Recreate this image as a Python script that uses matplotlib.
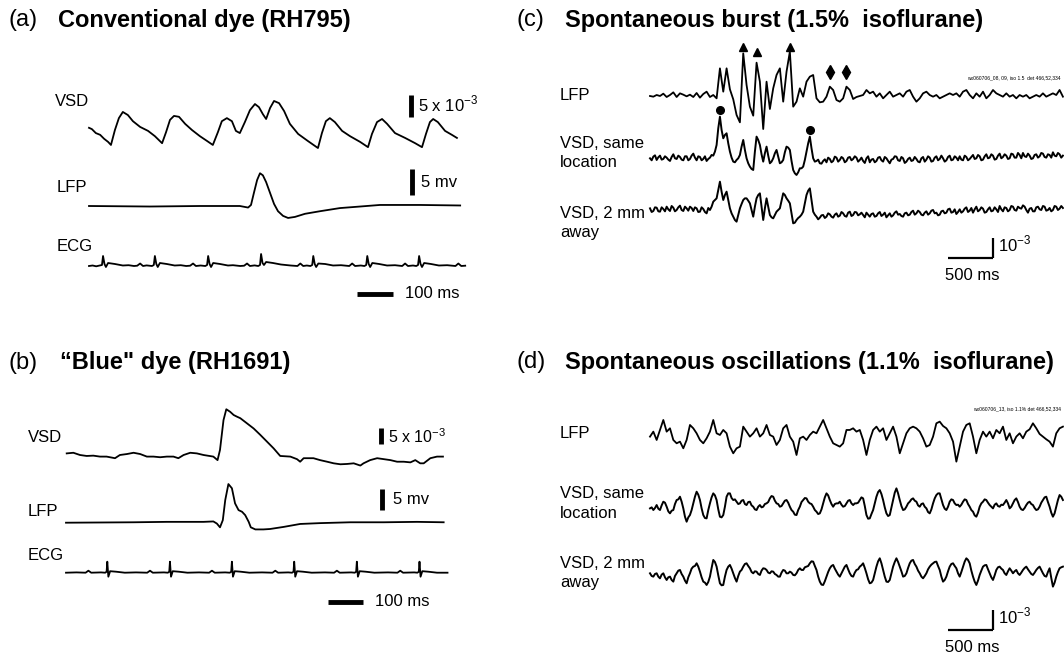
import numpy as np
import matplotlib
matplotlib.use("Agg")
import matplotlib.pyplot as plt

plt.rcParams['font.family'] = ['Liberation Sans', 'DejaVu Sans']
plt.rcParams['mathtext.fontset'] = 'custom'
plt.rcParams['mathtext.rm'] = 'Liberation Sans'

# ---------------- data ----------------
# (a) conventional dye, time in ms
a_vsd_t = [0, 8, 19, 31, 42, 53, 61, 72, 83, 94, 108, 122, 142, 164, 183, 203, 214, 225, 236, 250,
           267, 286, 308, 328, 344, 358, 369, 383, 397, 408, 419, 433, 447, 461, 472, 483, 492, 503,
           514, 528, 542, 558, 581, 608, 636, 647, 658, 669, 683, 703, 725, 753, 775, 786, 800, 814,
           828, 850, 878, 906, 925, 936, 947, 956, 969, 989, 1008, 1022]
a_vsd_v = [0.5, 0.2, -0.7, -1.1, -2.0, -2.7, -3.4, 0.0, 2.7, 4.1, 3.4, 2.0, 0.7, -0.2, -1.4, -3.0, -0.5,
           2.3, 3.2, 3.0, 1.4, 0.0, -1.4, -2.5, -3.4, -0.5, 2.0, 2.7, 2.0, -0.2, -0.7, 1.8, 4.5, 5.9,
           5.2, 3.6, 2.5, 5.0, 6.6, 6.1, 4.3, 1.4, -0.9, -2.5, -4.1, -0.7, 2.0, 2.7, 1.8, -0.2, -1.4,
           -2.7, -3.9, -0.9, 1.8, 2.5, 1.4, -0.7, -1.8, -3.0, -3.9, -0.9, 1.8, 2.5, 1.8, -0.2, -1.1, -1.8]

a_lfp_t = [0, 169, 308, 419, 442, 450, 458, 467, 475, 483, 492, 503, 514, 525, 539, 553, 572, 600,
           642, 697, 753, 808, 920, 1031]
a_lfp_v = [0, -0.1, 0, 0, -0.3, 0.2, 2.5, 5.0, 6.3, 5.9, 4.6, 2.5, 0.4, -1.0, -1.9, -2.3, -2.1, -1.5,
           -1.0, -0.4, -0.1, 0.2, 0.2, 0.1]

a_ecg_t = [0, 10, 20, 31, 36, 39, 43, 47, 53, 72, 94, 110, 125, 134, 142, 150, 160, 175, 180, 183,
           187, 191, 197, 216, 238, 255, 270, 281, 289, 297, 310, 323, 328, 331, 335, 339, 345, 364,
           386, 400, 420, 431, 439, 447, 460, 470, 475, 478, 482, 486, 492, 511, 533, 560, 579, 587,
           595, 605, 615, 620, 623, 627, 631, 637, 656, 678, 700, 723, 731, 739, 755, 765, 770, 773,
           777, 781, 787, 806, 828, 850, 870, 878, 886, 900, 909, 914, 917, 921, 925, 931, 950, 972,
           995, 1018, 1026, 1034, 1045]
a_ecg_v = [0, 0.5, -0.3, 0.6, 1, 10, 2, -1, 3, 2, 0.5, 0.8, 0, 0.3, 2.5, 0, 0.6, 0, 1, 10,
           2, -1, 3, 2, 0.5, 0.8, 0, 0.3, 2.5, 0, 0.5, 0, 1, 10, 2, -1, 3, 2,
           0.5, 0.8, 0, 0.3, 2.5, 0, 0.6, 0, 1, 12, 3, 1, 4, 3, 1.5, 0.5, 0, 2.5,
           0, 0.5, 0, 1, 10, 2, -1, 2.5, 2, 0.5, 0.8, 0, 2.5, 0, 0.5, 0, 1, 10,
           2, -1, 3, 2, 0.5, 0.8, 0, 2.5, 0, 0.5, 0, 1, 10, 2, -1, 3, 2, 0.5,
           0.8, 0, 2.5, 0, 0.3]

# (b) "blue" dye, time in ms
b_vsd_t = [2, 21, 40, 59, 78, 97, 116, 140, 154, 174, 193, 212, 231, 250, 269, 288, 307, 321, 336,
           355, 374, 393, 421, 433, 440, 450, 458, 469, 479, 488, 498, 517, 536, 555, 574, 593, 612,
           641, 660, 669, 679, 707, 726, 746, 765, 784, 803, 822, 841, 850, 869, 889, 908, 927, 946,
           965, 984, 998, 1012, 1022, 1041, 1060, 1077]
b_vsd_v = [0.5, 0.7, 0, -0.3, -0.2, -0.5, -0.5, -1.0, 0, 0.3, 0.7, 0.3, -0.5, -0.5, -0.7, -0.5, -0.5,
           -1.0, 0, 0.7, 0.5, 0, -0.5, -1.6, 1.6, 10.9, 14.3, 13.5, 12.5, 12.0, 11.5, 9.9, 8.3, 6.3,
           4.2, 2.1, -0.3, -0.5, -1.3, -2.1, -1.0, -1.0, -1.6, -2.1, -2.6, -2.9, -2.8, -2.6, -3.3,
           -2.6, -1.6, -1.0, -1.3, -1.6, -2.1, -2.1, -2.3, -1.6, -2.6, -2.6, -1.0, -0.5, -0.5]

b_lfp_t = [0, 193, 288, 393, 421, 431, 440, 448, 455, 464, 474, 483, 493, 503, 512, 522, 528, 541,
           564, 583, 622, 669, 726, 812, 908, 1003, 1079]
b_lfp_v = [0, 0.1, 0.2, 0.2, 0.3, -0.2, -1.1, 0.6, 5.4, 9.2, 8.2, 4.6, 3.0, 2.6, 1.8, 0.2, -1.1,
           -1.6, -1.6, -1.5, -1.0, -0.3, -0.1, 0.1, 0.1, 0.2, 0.1]

b_ecg_t = [0, 30, 56, 64, 72, 100, 112, 116, 118, 121, 126, 143, 168, 200, 232, 240, 248, 280, 291,
           295, 297, 300, 305, 322, 347, 380, 409, 417, 425, 455, 468, 472, 474, 477, 482, 499, 524,
           560, 590, 598, 606, 635, 646, 650, 652, 655, 660, 677, 702, 740, 766, 774, 782, 815, 825,
           829, 831, 834, 839, 856, 881, 920, 947, 955, 963, 995, 1004, 1008, 1010, 1013, 1018, 1035,
           1060, 1090]
b_ecg_v = [0, 0.3, 0, 2, 0, 0.3, 0, 1, 11, -4, 1.5, 1, 0, 0.3, 0, 2, 0, 0.3, 0,
           1, 11, -4, 1.5, 1, 0, 0.3, 0, 2, 0, 0.3, 0, 1, 11, -4, 1.5, 1, 0,
           0.3, 0, 2, 0, 0.3, 0, 1, 11, -4, 1.5, 1, 0, 0.3, 0, 2, 0, 0.3, 0,
           1, 11, -4, 1.5, 1, 0, 0.3, 0, 2, 0, 0.3, 0, 1, 11, -4, 1.5, 1,
           0, 0]

# (c) spontaneous burst, uniform sampling, a.u. (60 a.u. = 1e-3)
DT_LFP = 37     # ms per sample
DT_FINE = 18.5  # ms per sample for the optical traces
c_lfp = [0, -2, 3, 0, 7, -3, 3, 11, -3, 8,
         4, -1, 4, -3, 9, -5, 6, 13, -3, 3,
         -7, 83, 13, 83, 20, -10, -57, -79, 128, 33,
         -32, -59, 100, 43, -99, 43, -39, 23, 63, 83,
         -17, 73, 133, -32, -17, 23, -2, 43, 58, 63,
         -7, -19, -17, -2, 28, 18, -12, -17, -7, 28,
         18, -9, -3, 0,
         3, 18, 8, 13, -2, 8, -7, 3, 13, -2,
         3, 8, -2, 13, 18, -2, -17, -7, 8, 13,
         3, -2, 3, -7, -2, 3, 8, 3, 8, -2,
         13, 18, 3, -7, 8, -2, 13, -7, 3, 18,
         8, 3, -2, 8, -2, 3, -7, 3, -2, 3,
         -7, -2, 3, -2, 8, -2, 3, 8, 3, 18,
         -2]
c_vsd_same = [0, -6, 5, 9, -5, 3, 8, -4, -2, 6, 2, -4, -8, 4, 12, 0, -2, 8, 4, -4,
              -6, 6, 6, -6, -2, 8, 14, 2, -6, 6, 4, -6, -2, 6, -8, -2, 2, 10, 8, 20,
              40, 90, 125, 85, 60, 70, 75, 45, 20, 2, -10, -12, -5, 0, 10, 35, 55, 25, 0, -15,
              -25, -32, -35, 20, 65, 55, 40, 12, -10, 15, 35, 8, -15, -10, 0, 15, 25, 5, -15, -12,
              -5, 18, 35, 32, 25, -8, -35, -45, -50, -42, -30, -30, -25, -5, 20, 45, 65, 30, 0, -10,
              -8, -4, -15, -16, -8, -3, -12, 2, -2, -12, -8, 5, 2, -10, -5, 4, 0, -12, -8, 2,
              4, -6, -2, 6, 2, -10, -5, 2,
              -8, -14, 0, 6, -12, -4, -2, -12, -8, 2, 4, -6, -10, 4, 0, -8, -15, -4, -2, 6,
              5, -6, -8, 4, 0, -14, -10, -2, 2, -8, -6, 4, -2, -10, -12, 0, 4, -10, -4, 6,
              2, -10, -8, 2, 6, -6, -2, 8, 0, -10, -6, 4, 8, -6, -4, 6, 2, -6, 6, -4,
              -6, 8, 4, -6, -2, 4, 10, -2, 0, 10, 6, -6, -4, 6, 12, 0, 2, 12, 8, -4,
              -2, 8, 14, 0, 4, 12, 8, -2, 0, 14, 12, 2, 2, 16, 10, 0, 16, 6, 4, 14,
              8, -2, 0, 10, 12, 2, 6, 16, 14, 4, 2, 12, 10, 2, 18, 8, 6, 16, 12, 2,
              8]
c_vsd_2mm = [5, -6, -3, 8, 7, -4, -5, 8, 3, -4, 10, 2, -3, 12, 7, -4, 0, 8, 13, 0,
             -3, 10, 5, -2, 10, 6, -3, 8, 5, -6, -5, 8, 3, -6, -10, 6, 0, 10, 25, 30,
             35, 60, 85, 55, 30, 45, 55, 30, 5, -10, -20, -30, -35, -15, 5, 18, 30, 35, 35, 28,
             20, 0, -20, 10, 35, 45, 50, 10, -30, 5, 35, 10, -15, -22, -25, -15, -5, 0, 5, 28,
             50, 45, 35, 28, 20, -10, -40, -38, -30, -24, -20, -14, -5, 20, 45, 58, 65, 30, -5, -14,
             -20, -28, -23, -16, -15, -24, -20, -10, -13, -20, -23, -14, -10, -20, -17, -6, -10, -18, -20, -8,
             -5, -18, -15, -6, -7, -16, -13, -8,
             -15, -22, -8, -14, -20, -12, -10, -20, -18, -10, -6, -18, -14, -8, -22, -16, -10, -20, -16, -8,
             -4, -14, -12, -18, -20, -10, -8, -16, -14, -6, -2, -14, -10, -2, -6, -14, -16, -8, -4, -14,
             -10, -2, 0, -10, -8, -16, -14, -4, -2, -10, -8, 2, 4, -8, -6, 2, -12, -6, 2, -8,
             -4, 4, 8, -6, -2, 6, -8, 2, 10, -4, 0, 8, 4, -8, -6, 2, 8, -4, -2, 8,
             2, -6, 12, 2, -4, 8, 6, -4, 0, 12, 10, 0, -2, 10, 6, 4, 14, 10, 0, -8,
             4, 6, -4, -4, 8, 10, 2, 0, 12, 10, -2, 0, 6, -4, 0, 12, 10, 0, 4, 12,
             6]

# (d) spontaneous oscillations
d_lfp = [-10, 5, -20, 10, 40, 5, 15, -20, -30, -25,
         -45, -20, 25, 15, 0, -20, -30, -15, 5, 40,
         0, -5, 10, 0, -40, -60, -45, -40, 20, 5,
         -10, 0, 15, -10, 0, 25, -5, -10, -35, -20,
         15, 25, -10, -25, -65, -15, -10, -20, -5, 5,
         0, 20, 40, 15, -10, -30, -35, -40, -30, 10,
         10, 15, 5, 10,
         -20, -65, -20, 10, 20, 5, 15, -20, 0, 20,
         -10, -60, -30, 0, 15, 20, 15, 5, -15, -40,
         -35, -10, 30, 35, 22, 15, 0, -25, -85, -40,
         5, 25, 30, -10, -60, -20, 5, -10, 5, -15,
         10, 0, 20, -20, 0, -30, -10, 0, -15, 5,
         12, 30, 15, -2, -10, -18, -25, -40, 0, 15,
         20]
d_vsd_same = [-5, -2, -10, -4, 5, -6, -10, 4, 15, 12, 0, -14, -20, -12, -10, 8, 20, 22, 30, 15,
              -5, -30, -45, -32, -25, -10, 10, 30, 45, 36, 20, -5, -25, -34, -35, -10, 10, 28, 40, 34,
              20, -8, -30, -32, -25, 0, 30, 40, 40, 26, 20, 22, 15, 8, 10, 18, 20, 8, 5, 14,
              15, 4, 0, -8, -10, 0, 5, -2, 0, 8, 10, 14, 25, 32, 30, 18, 10, 8, 0, 2,
              10, 18, 20, 12, 0, -10, -15, -24, -25, -10, 0, 14, 20, 26, 25, 15, 10, 8, 0, -10,
              -15, -22, -20, -8, 10, 28, 40, 34, 20, 8, 0, 8, 10, 10, 15, 6, 0, 2, 10, 18,
              20, 10, 5, 10, 10, 12, 20, 28,
              25, 2, -25, -36, -35, -22, -10, 10, 30, 44, 50, 38, 20, -2, -20, -28, -25, -2, 20, 42,
              55, 40, 20, 2, -10, -8, 0, 10, 15, 22, 25, 18, 15, 4, 0, 8, 10, 0, -5, -16,
              -20, -8, 10, 25, 35, 40, 40, 22, 5, -6, -10, 0, 15, 22, 20, 10, 5, 6, 0, 6,
              15, 22, 20, 8, 0, -10, -15, -26, -30, -18, 0, 10, 15, 22, 20, 12, 5, 0, -5, 6,
              10, 2, 0, 6, 5, 12, 20, 10, -5, 0, 10, 20, 25, 14, 0, -8, -10, -4, 5, 12,
              15, 8, 5, -4, -10, -8, 0, 12, 20, 28, 30, 14, 0, -18, -30, -20, 0, 20, 35, 30,
              20]
d_vsd_2mm = [0, -8, -10, -2, 0, -10, -15, -4, 0, -12, -20, -12, -10, -20, -25, -8, 0, 8, 10, -2,
             -10, -22, -30, -12, 0, 14, 20, 22, 30, 20, 5, -12, -25, -28, -35, -26, -10, 16, 40, 34,
             20, -6, -30, -36, -35, -10, 10, 20, 25, 14, 0, -14, -25, -8, 5, 10, 20, 28, 30, 22,
             15, 4, 0, 6, 5, -2, -5, 8, 15, 14, 10, 2, 0, 6, 5, -2, -5, -10, -10, 2,
             10, 8, 0, 0, 5, 2, -5, -6, 0, 10, 15, 10, 10, 18, 20, 22, 30, 36, 35, 22,
             10, -10, -25, -34, -35, -24, -10, 4, 15, 22, 25, 14, 5, -4, -10, 0, 10, 20, 25, 12,
             0, -8, -10, 2, 10, 12, 20, 24,
             30, 16, 0, -18, -30, -28, -20, 0, 20, 36, 45, 30, 10, -10, -25, -26, -20, 0, 20, 34,
             45, 34, 20, 6, -10, -8, 0, 16, 30, 38, 40, 28, 20, 8, 0, -10, -15, -8, 0, 12,
             20, 26, 30, 34, 35, 22, 10, -10, -25, -20, -10, 6, 20, 28, 30, 22, 15, 0, -10, 4,
             20, 35, 45, 40, 30, 8, -10, -25, -35, -22, -5, 8, 20, 24, 25, 12, 0, -12, -20, -6,
             10, 18, 20, 14, 10, 0, -5, 6, 15, 8, 0, 6, 10, 0, -5, 2, 10, 16, 20, 12,
             5, -2, -5, 2, 10, 16, 20, 10, 0, -8, -10, 4, 15, -14, -40, -28, -10, 4, 15, 18,
             20]

# burst markers in (c): (time ms, level a.u.)
c_triangles = [(1036, 147), (1184, 132), (1554, 146)]
c_diamonds = [(1998, 72), (2183, 72)]
c_dots_vsd = [(777, 145), (1776, 85)]

# ---------------- layout ----------------
W, H = 1064, 657
fig = plt.figure(figsize=(W / 100, H / 100), dpi=100)
LW = 1.3


def trace_axes(x0, y0, px_per_ms, px_per_unit, span=5000, half=90):
    # x0, y0: pixel position (from top-left) of t=0, v=0
    ax = fig.add_axes([x0 / W, 1 - (y0 + half) / H, span * px_per_ms / W, 2 * half / H])
    ax.set_xlim(0, span)
    ax.set_ylim(-half / px_per_unit, half / px_per_unit)
    ax.axis('off')
    return ax


def draw(ax, t, v, lw=LW):
    ax.plot(t, v, color='black', lw=lw, clip_on=False, solid_joinstyle='round')


def txt(x, y, s, size=12, weight='normal', ha='left'):
    fig.text(x / W, 1 - y / H, s, fontsize=size, fontweight=weight, ha=ha, va='center')


def vbar(ax, t, v0, dv, lw=3.5):
    ax.plot([t, t], [v0, v0 + dv], color='black', lw=lw, solid_capstyle='butt', clip_on=False)


def hbar(ax, t0, dt, v, lw=3.5):
    ax.plot([t0, t0 + dt], [v, v], color='black', lw=lw, solid_capstyle='butt', clip_on=False)


TS = 17  # title size

# panel (a)
txt(8, 20, '(a)', TS)
txt(58, 20, 'Conventional dye (RH795)', TS, 'bold')
ax = trace_axes(89, 130, 0.36, 4.4)
draw(ax, a_vsd_t, a_vsd_v)
vbar(ax, 895, 3.0, 5)
txt(55, 102, 'VSD')
txt(418, 104, r'5 x 10$^{-3}$')
ax = trace_axes(89, 206, 0.36, 5.2)
draw(ax, a_lfp_t, a_lfp_v)
vbar(ax, 898, 2.1, 5)
txt(57, 188, 'LFP')
txt(421, 183, '5 mv')
ax = trace_axes(89, 266, 0.36, 1.0)
draw(ax, a_ecg_t, a_ecg_v)
hbar(ax, 745, 100, -28)
txt(57, 247, 'ECG')
txt(405, 294, '100 ms')

# panel (b)
txt(8, 363, '(b)', TS)
txt(60, 363, '\u201cBlue" dye (RH1691)', TS, 'bold')
ax = trace_axes(66, 455, 0.35, 3.2)
draw(ax, b_vsd_t, b_vsd_v)
vbar(ax, 901, 3.4, 5)
txt(28, 437, 'VSD')
txt(388, 437, r'5 x 10$^{-3}$', 11.5)
ax = trace_axes(66, 522.7, 0.35, 4.2)
draw(ax, b_lfp_t, b_lfp_v)
vbar(ax, 904, 3.0, 5)
txt(28, 512, 'LFP')
txt(393, 499, '5 mv')
ax = trace_axes(66, 572.7, 0.35, 1.0)
draw(ax, b_ecg_t, b_ecg_v)
hbar(ax, 749, 100, -29.3)
txt(28, 555, 'ECG')
txt(375, 602, '100 ms')

# panels (c) and (d)
PX_MS = 45 / 500.0
PX_AU = 1 / 3.0
panels = [
    dict(key='c', series=((c_lfp, DT_LFP, LW), (c_vsd_same, DT_FINE, 1.4), (c_vsd_2mm, DT_FINE, 1.4)),
         y=(96, 158.3, 210), ytitle=20,
         title='Spontaneous burst (1.5%  isoflurane)', note='wx060706_08, 09, iso 1.5  det 466,52,334',
         ynote=78, labels=(96, 144, 163, 213, 233), bar_v=-144),
    dict(key='d', series=((d_lfp, DT_LFP, LW), (d_vsd_same, DT_FINE, 1.4), (d_vsd_2mm, DT_FINE, 1.4)),
         y=(433.3, 506.7, 573.3), ytitle=362,
         title='Spontaneous oscillations (1.1%  isoflurane)', note='wx060706_13, iso 1.1% det 466,52,334',
         ynote=409, labels=(433, 494, 513, 563, 583), bar_v=-170),
]
for p in panels:
    txt(516, p['ytitle'], '(%s)' % p['key'], TS)
    txt(565, p['ytitle'], p['title'], TS, 'bold')
    txt(1061, p['ynote'], p['note'], 3.6, ha='right')
    axes = []
    for (series, dt, lw), yb in zip(p['series'], p['y']):
        ax = trace_axes(650, yb, PX_MS, PX_AU)
        draw(ax, np.arange(len(series)) * dt, series, lw)
        axes.append(ax)
    ly = p['labels']
    txt(560, ly[0], 'LFP')
    txt(560, ly[1], 'VSD, same')
    txt(560, ly[2], 'location')
    txt(560, ly[3], 'VSD, 2 mm')
    txt(560, ly[4], 'away')
    far_ax = axes[2]
    vbar(far_ax, 3811, p['bar_v'], 60, lw=1.6)
    hbar(far_ax, 3311, 500, p['bar_v'], lw=1.6)
    y_bar = p['y'][2] - p['bar_v'] * PX_AU
    txt(998, y_bar - 14, r'10$^{-3}$')
    txt(945, y_bar + 18, '500 ms')
    if p['key'] == 'c':
        for t, v in c_triangles:
            axes[0].plot(t, v, marker='^', ms=6, color='black', clip_on=False)
        for t, v in c_diamonds:
            axes[0].plot(t, v, marker='d', ms=7, color='black', clip_on=False)
        for t, v in c_dots_vsd:
            axes[1].plot(t, v, marker='o', ms=5.5, color='black', clip_on=False)

fig.savefig('out.png', dpi=100)
